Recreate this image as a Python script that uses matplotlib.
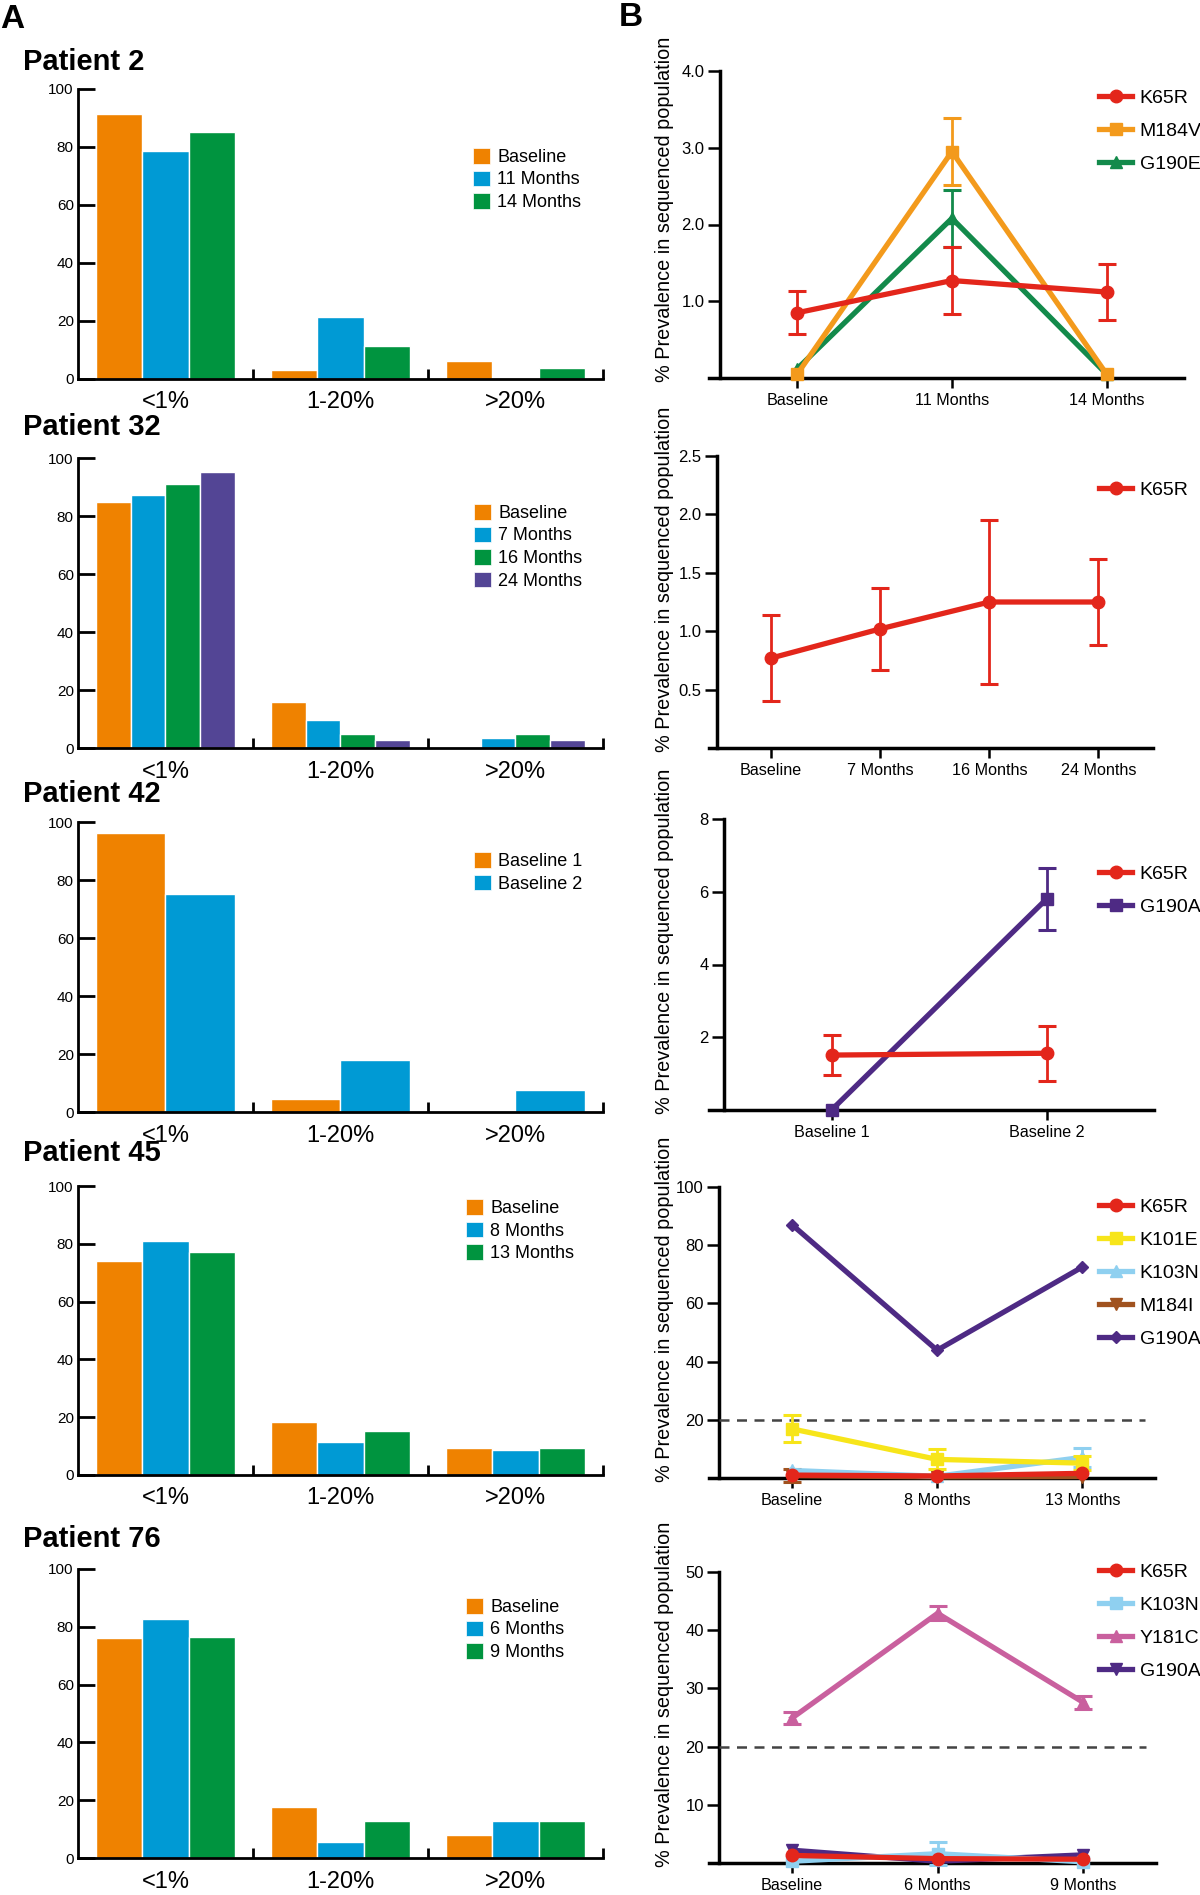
import numpy as np
import matplotlib
matplotlib.use('Agg')
import matplotlib.pyplot as plt
from matplotlib.patches import Patch

plt.rcParams['font.family'] = ['Liberation Sans', 'DejaVu Sans']

W, H = 1200, 1895

# ---------------- data: panel A (bars) ----------------
bar_groups = ['<1%', '1-20%', '>20%']

p2_bar_labels = ['Baseline', '11 Months', '14 Months']
p2_bar_vals = [[91.4, 3.2, 6.3], [78.7, 21.4, 0.0], [85.2, 11.3, 3.9]]

p32_bar_labels = ['Baseline', '7 Months', '16 Months', '24 Months']
p32_bar_vals = [[84.7, 15.9, 0.0], [87.2, 9.8, 3.3], [91.0, 4.7, 4.7], [95.2, 2.6, 2.6]]

p42_bar_labels = ['Baseline 1', 'Baseline 2']
p42_bar_vals = [[96.3, 4.5, 0.0], [75.2, 18.0, 7.5]]

p45_bar_labels = ['Baseline', '8 Months', '13 Months']
p45_bar_vals = [[74.1, 18.2, 9.3], [81.0, 11.5, 8.8], [77.1, 15.3, 9.3]]

p76_bar_labels = ['Baseline', '6 Months', '9 Months']
p76_bar_vals = [[76.2, 17.6, 7.9], [82.8, 5.4, 12.9], [76.4, 12.7, 12.7]]

bar_colors = ['#EF8200', '#009AD4', '#00943F', '#534595']

# ---------------- data: panel B (lines) ----------------
p2_times = ['Baseline', '11 Months', '14 Months']
p2_k65r = [0.85, 1.27, 1.12]
p2_k65r_err = [0.28, 0.44, 0.37]
p2_m184v = [0.05, 2.95, 0.05]
p2_m184v_err = [0, 0.44, 0]
p2_g190e = [0.12, 2.08, 0.05]
p2_g190e_err = [0, 0.37, 0]

p32_times = ['Baseline', '7 Months', '16 Months', '24 Months']
p32_k65r = [0.77, 1.02, 1.25, 1.25]
p32_k65r_err = [0.37, 0.35, 0.70, 0.37]

p42_times = ['Baseline 1', 'Baseline 2']
p42_k65r = [1.51, 1.56]
p42_k65r_err = [0.54, 0.75]
p42_g190a = [0.0, 5.80]
p42_g190a_err = [0, 0.85]

p45_times = ['Baseline', '8 Months', '13 Months']
p45_k65r = [1.0, 0.7, 1.6]
p45_k65r_err = [0, 0, 0]
p45_k101e = [16.9, 6.4, 5.1]
p45_k101e_err = [4.7, 3.4, 2.3]
p45_k103n = [2.6, 0.6, 7.1]
p45_k103n_err = [0, 0, 3.2]
p45_m184i = [0.8, 0.4, 0.5]
p45_m184i_err = [2.2, 0, 0]
p45_g190a = [87.1, 43.9, 72.5]
p45_g190a_err = [0, 0, 0]

p76_times = ['Baseline', '6 Months', '9 Months']
p76_k65r = [1.3, 0.75, 0.65]
p76_k65r_err = [0, 0, 0]
p76_k103n = [0.3, 1.6, 0.2]
p76_k103n_err = [0, 2.0, 0]
p76_y181c = [24.9, 42.9, 27.6]
p76_y181c_err = [1.0, 1.2, 1.1]
p76_g190a = [2.2, 0.3, 1.4]
p76_g190a_err = [0, 0, 0]

threshold = 20

RED, ORANGE, GREEN = '#E3261B', '#F39A1C', '#138A4B'
PURPLE, YELLOW, LBLUE = '#4E2A84', '#F7E51A', '#8FD0F0'
BROWN, PINK = '#A0521F', '#C9609E'

fig = plt.figure(figsize=(W / 100, H / 100), dpi=100)


def axes_px(l, t, r, b):
    return fig.add_axes([l / W, 1 - b / H, (r - l) / W, (b - t) / H])


def draw_bars(top, bottom, title, title_y, labels, vals, leg_x, leg_y):
    ax = axes_px(78, top, 603, bottom)
    n = len(labels)
    total = 0.79
    bw = total / n
    x = np.arange(len(bar_groups))
    for i, (lab, v) in enumerate(zip(labels, vals)):
        ax.bar(x - total / 2 + bw * (i + 0.5), v, bw, color=bar_colors[i],
               edgecolor='white', linewidth=1, label=lab, zorder=2)
    ax.set_xlim(-0.5, 2.5)
    ax.set_ylim(0, 100)
    for s in ['top', 'right']:
        ax.spines[s].set_visible(False)
    for s in ['left', 'bottom']:
        ax.spines[s].set_linewidth(2)
    ax.spines['bottom'].set_zorder(3)
    ax.set_yticks(np.arange(0, 101, 20))
    ax.tick_params(axis='y', direction='in', length=12, width=2, labelsize=11, pad=3)
    ax.set_xticks(x)
    ax.set_xticklabels(bar_groups)
    ax.tick_params(axis='x', which='major', length=0, labelsize=17, pad=9)
    ax.set_xticks([0.5, 1.5, 2.5], minor=True)
    ax.tick_params(axis='x', which='minor', direction='in', length=7, width=2)
    handles = [Patch(facecolor=bar_colors[i], edgecolor='white', linewidth=0.5)
               for i in range(n)]
    ax.legend(handles, labels, loc='upper left', frameon=False, fontsize=13,
              bbox_to_anchor=(leg_x / W, 1 - (leg_y - 8) / H),
              bbox_transform=fig.transFigure, borderpad=0, borderaxespad=0,
              handlelength=0.95, handleheight=0.95, handletextpad=0.4,
              labelspacing=0.25)
    fig.text(23 / W, 1 - title_y / H, title, fontsize=21, fontweight='bold',
             va='center', ha='left')
    return ax


def draw_lines(top, bottom, right, times, series, ylim, yticks, yfmt,
               leg_y, thresh=None):
    ax = axes_px(709, top, right, bottom)
    n = len(times)
    x = np.arange(n)
    nser = len(series)
    for k, (name, vals, errs, color, marker, ms) in enumerate(series):
        z = 10 + (nser - k) * 2
        vals = np.array(vals, float)
        errs = np.array(errs, float)
        ax.plot(x, vals, color=color, lw=3.8, marker=marker, ms=ms,
                label=name, zorder=z, clip_on=False)
        m = errs > 0
        if m.any():
            ax.errorbar(x[m], vals[m], yerr=errs[m], fmt='none', ecolor=color,
                        elinewidth=2, capsize=6.5, capthick=2.2, zorder=z - 1,
                        clip_on=False)
    if thresh is not None:
        ax.hlines(thresh, -0.5, n - 0.57, colors='#444444', linestyles=(0, (4, 3)),
                  lw=1.8, zorder=5)
    ax.set_xlim(-0.57, n - 0.5)
    ax.set_ylim(*ylim)
    for s in ['top', 'right']:
        ax.spines[s].set_visible(False)
    ax.spines['left'].set_position(('data', -0.5))
    for s in ['left', 'bottom']:
        ax.spines[s].set_linewidth(2.5)
    ax.set_yticks(yticks)
    ax.set_yticklabels([yfmt.format(t) for t in yticks])
    ax.tick_params(axis='y', direction='out', length=9, width=1.8, labelsize=12, pad=2)
    ax.set_xticks(x)
    ax.set_xticklabels(times)
    ax.tick_params(axis='x', direction='out', length=7, width=1.8, labelsize=11.6, pad=4)
    ax.legend(loc='upper left', frameon=False, fontsize=14,
              bbox_to_anchor=(1099 / W, 1 - (leg_y - 8) / H),
              bbox_transform=fig.transFigure, borderpad=0, borderaxespad=0,
              handlelength=1.7, handletextpad=0.4, labelspacing=0.8)
    fig.text(665 / W, 1 - (bottom + 4) / H, '% Prevalence in sequenced population',
             rotation=90, ha='center', va='bottom', fontsize=14.3)
    return ax


# panel letters
fig.text(0 / W, 1 - 19 / H, 'A', fontsize=24, fontweight='bold', va='center', ha='left')
fig.text(619 / W, 1 - 18 / H, 'B', fontsize=24, fontweight='bold', va='center', ha='left')

# ---------- panel A ----------
draw_bars(89, 379, 'Patient 2', 62, p2_bar_labels, p2_bar_vals, 473, 156)
draw_bars(458, 748, 'Patient 32', 427, p32_bar_labels, p32_bar_vals, 474, 512)
draw_bars(822, 1112, 'Patient 42', 794, p42_bar_labels, p42_bar_vals, 474, 860)
draw_bars(1186, 1475, 'Patient 45', 1153, p45_bar_labels, p45_bar_vals, 466, 1207)
draw_bars(1569, 1858, 'Patient 76', 1539, p76_bar_labels, p76_bar_vals, 466, 1606)

# ---------- panel B ----------
draw_lines(71, 378, 1184, p2_times,
           [('K65R', p2_k65r, p2_k65r_err, RED, 'o', 9),
            ('M184V', p2_m184v, p2_m184v_err, ORANGE, 's', 8),
            ('G190E', p2_g190e, p2_g190e_err, GREEN, '^', 8)],
           (0, 4), [1.0, 2.0, 3.0, 4.0], '{:.1f}', 97)

draw_lines(456, 748, 1153, p32_times,
           [('K65R', p32_k65r, p32_k65r_err, RED, 'o', 9)],
           (0, 2.5), [0.5, 1.0, 1.5, 2.0, 2.5], '{:.1f}', 489)

draw_lines(819, 1110, 1154, p42_times,
           [('K65R', p42_k65r, p42_k65r_err, RED, 'o', 9),
            ('G190A', p42_g190a, p42_g190a_err, PURPLE, 's', 8)],
           (0, 8), [2, 4, 6, 8], '{:d}', 873)

draw_lines(1187, 1478, 1155, p45_times,
           [('K65R', p45_k65r, p45_k65r_err, RED, 'o', 9),
            ('K101E', p45_k101e, p45_k101e_err, YELLOW, 's', 8),
            ('K103N', p45_k103n, p45_k103n_err, LBLUE, '^', 8),
            ('M184I', p45_m184i, p45_m184i_err, BROWN, 'v', 8),
            ('G190A', p45_g190a, p45_g190a_err, PURPLE, 'D', 6)],
           (0, 100), [20, 40, 60, 80, 100], '{:d}', 1206, thresh=threshold)

draw_lines(1572, 1863, 1156, p76_times,
           [('K65R', p76_k65r, p76_k65r_err, RED, 'o', 9),
            ('K103N', p76_k103n, p76_k103n_err, LBLUE, 's', 8),
            ('Y181C', p76_y181c, p76_y181c_err, PINK, '^', 9),
            ('G190A', p76_g190a, p76_g190a_err, PURPLE, 'v', 8)],
           (0, 50), [10, 20, 30, 40, 50], '{:d}', 1571, thresh=threshold)

fig.savefig('out.png', dpi=100)
